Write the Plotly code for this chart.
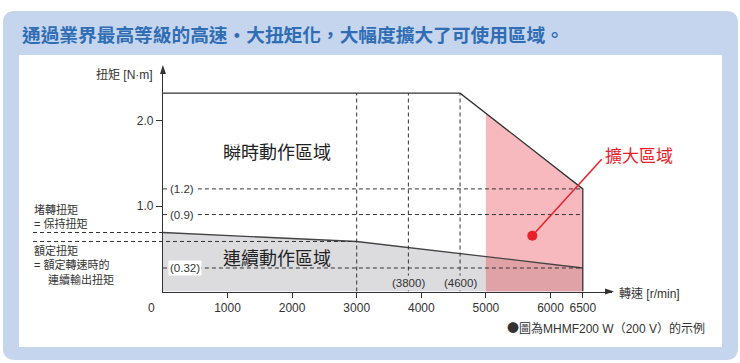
import numpy as np
import plotly.graph_objects as go

W, H = 740, 363

# ---- data ----
max_speed = [0, 4600, 6500, 6500]          # r/min
max_torque = [2.32, 2.32, 1.2, 0.0]        # N·m (instantaneous region boundary)
cont_speed = [0, 3000, 6500]
cont_torque = [0.69, 0.585, 0.275]          # continuous region boundary
ext_start = 5000                            # expanded region start speed
ext_end = 6500
ref_torques = [1.2, 0.9, 0.275]
ref_torque_labels = ["(1.2)", "(0.9)", "(0.32)"]
ref_speeds = [3000, 3800, 4600]
ref_speed_labels = ["", "(3800)", "(4600)"]
x_ticks = [1000, 2000, 3000, 4000, 5000, 6000, 6500]
x_ticklabels = ["1000", "2000", "3000", "4000", "5000", "6000", "6500"]
y_ticks = [1.0, 2.0]
y_ticklabels = ["1.0", "2.0"]
stall_torque = 0.69
rated_torque = 0.585
rated_speed = 3000
dot_point = (5718, 0.653)

# ---- helpers (pixel -> paper) ----
def px(x):
    return x / W

def py(y):
    return 1 - y / H

X0, XPX = 162.9, 0.0646      # pixel of speed 0, px per r/min
Y0, YPX = 291.5, 85.5        # pixel of torque 0, px per N·m
X_END, Y_TOP = 612, 68
xr = [0, (X_END - X0) / XPX]
yr = [0, (Y0 - Y_TOP) / YPX]

FONT = "Liberation Sans, Arial, Noto Sans CJK TC, sans-serif"
CJK = "Noto Sans CJK TC, Liberation Sans, sans-serif"
DARK = "#333333"
GRAY_FILL = "#dcdcde"
PINK = "#f7b9bd"
PINK_DARK = "#e0a2a6"
RED = "#e8202a"
BLUE_BG = "#c6d5ee"
BLUE_TXT = "#2f6db5"

fig = go.Figure()

# continuous region (gray)
cx = [0] + cont_speed + [cont_speed[-1]]
cy = [0] + cont_torque + [0]
fig.add_trace(go.Scatter(x=cx, y=cy, fill="toself", fillcolor=GRAY_FILL,
                         line=dict(width=0), mode="lines", hoverinfo="skip"))

# expanded region (pink): from ext_start to ext_end under the max curve
top_start = float(np.interp(ext_start, max_speed[:3], max_torque[:3]))
cont_start = float(np.interp(ext_start, cont_speed, cont_torque))
pxs = [ext_start, ext_start, max_speed[2], ext_end, ext_start]
pys = [0, top_start, max_torque[2], 0, 0]
fig.add_trace(go.Scatter(x=pxs, y=pys, fill="toself", fillcolor=PINK,
                         line=dict(width=0), mode="lines", hoverinfo="skip"))
# overlap of expanded and continuous (darker)
dxs = [ext_start, ext_start, ext_end, ext_end, ext_start]
dys = [0, cont_start, cont_torque[-1], 0, 0]
fig.add_trace(go.Scatter(x=dxs, y=dys, fill="toself", fillcolor=PINK_DARK,
                         line=dict(width=0), mode="lines", hoverinfo="skip"))

# boundary lines
fig.add_trace(go.Scatter(x=cont_speed, y=cont_torque, mode="lines",
                         line=dict(color="#444444", width=1.3), hoverinfo="skip"))
fig.add_trace(go.Scatter(x=max_speed, y=max_torque, mode="lines",
                         line=dict(color=DARK, width=1.3), hoverinfo="skip"))

shapes = []
# blue rounded panel
r = 12
x1p, x2p, y1p, y2p = 3, 738, 11, 360
path = (f"M {px(x1p + r)},{py(y1p)} L {px(x2p - r)},{py(y1p)} "
        f"Q {px(x2p)},{py(y1p)} {px(x2p)},{py(y1p + r)} "
        f"L {px(x2p)},{py(y2p - r)} Q {px(x2p)},{py(y2p)} {px(x2p - r)},{py(y2p)} "
        f"L {px(x1p + r)},{py(y2p)} Q {px(x1p)},{py(y2p)} {px(x1p)},{py(y2p - r)} "
        f"L {px(x1p)},{py(y1p + r)} Q {px(x1p)},{py(y1p)} {px(x1p + r)},{py(y1p)} Z")
shapes.append(dict(type="path", xref="paper", yref="paper", path=path,
                   fillcolor=BLUE_BG, line=dict(width=0), layer="below"))
shapes.append(dict(type="rect", xref="paper", yref="paper",
                   x0=px(19), x1=px(722), y0=py(347), y1=py(55),
                   fillcolor="white", line=dict(width=0), layer="below"))

dash = dict(color=DARK, width=1, dash="4px,3px")
for t in ref_torques:
    shapes.append(dict(type="line", xref="x", yref="y", x0=0, x1=ext_end,
                       y0=t, y1=t, line=dash, layer="above"))
for s in ref_speeds:
    shapes.append(dict(type="line", xref="x", yref="y", x0=s, x1=s,
                       y0=0, y1=max_torque[0], line=dash, layer="above"))
# left dashed lines (stall / rated)
shapes.append(dict(type="line", xref="paper", yref="y", x0=px(33), x1=px(X0),
                   y0=stall_torque, y1=stall_torque, line=dash))
shapes.append(dict(type="line", xref="paper", yref="y", x0=px(33),
                   x1=px(X0 + rated_speed * XPX),
                   y0=rated_torque, y1=rated_torque, line=dash))
# axis arrows
shapes.append(dict(type="path", xref="paper", yref="paper",
                   path=f"M {px(160)},{py(74)} L {px(X0)},{py(65)} L {px(166)},{py(74)} Z",
                   fillcolor=DARK, line=dict(width=0)))
shapes.append(dict(type="path", xref="paper", yref="paper",
                   path=f"M {px(605)},{py(Y0 - 3)} L {px(614)},{py(Y0)} L {px(605)},{py(Y0 + 3)} Z",
                   fillcolor=DARK, line=dict(width=0)))
# red leader line
shapes.append(dict(type="line", xref="paper", yref="paper",
                   x0=px(X0 + dot_point[0] * XPX), y0=py(Y0 - dot_point[1] * YPX),
                   x1=px(601.7), y1=py(159.3),
                   line=dict(color=RED, width=1.5)))

fig.add_trace(go.Scatter(x=[dot_point[0]], y=[dot_point[1]], mode="markers",
                         marker=dict(color=RED, size=10), hoverinfo="skip"))

ann = []
def text(x, y, t, size=11, color=DARK, anchor="center", font=FONT, yanchor="middle", **kw):
    ann.append(dict(xref="paper", yref="paper", x=px(x), y=py(y), text=t,
                    showarrow=False, xanchor=anchor, yanchor=yanchor,
                    font=dict(size=size, color=color, family=font), **kw))

# title
text(20, 33, "<b>通過業界最高等級的高速・大扭矩化，大幅度擴大了可使用區域。</b>",
     size=18.7, color=BLUE_TXT, anchor="left", font=CJK)

# torque reference labels
for t, lab in zip(ref_torques, ref_torque_labels):
    ann.append(dict(xref="x", yref="y", x=0, y=t, text=lab, showarrow=False,
                    xanchor="left", xshift=5, bgcolor="white", borderpad=1,
                    font=dict(size=11.5, color=DARK, family=FONT)))
for s, lab in zip(ref_speeds, ref_speed_labels):
    if lab:
        ann.append(dict(xref="x", yref="y", x=s, y=(Y0 - 282.7) / YPX, text=lab,
                        showarrow=False, xanchor="center", bgcolor=GRAY_FILL,
                        borderpad=1, font=dict(size=11.5, color=DARK, family=FONT)))

text(277, 150.7, "瞬時動作區域", size=18, color="#222222", font=CJK)
text(277, 256.7, "連續動作區域", size=18, color="#222222", font=CJK)
text(638.5, 154, "擴大區域", size=17, color=RED, font=CJK)

text(32, 216, "堵轉扭矩<br>= 保持扭矩", size=11, anchor="left", align="left")
text(32, 264.5, "額定扭矩<br>= 額定轉速時的<br>\u3000 連續輸出扭矩", size=11,
     anchor="left", align="left")

text(155, 75, "扭矩 [N·m]", size=12, anchor="right")
text(617, 293, "轉速 [r/min]", size=12, anchor="left")
text(151, 307.5, "0", size=12)
text(707, 327, "<span style=\"font-family:Noto Sans CJK TC\">●</span>圖為MHMF200 W（200 V）的示例",
     size=12, anchor="right")

fig.update_layout(
    width=W, height=H, margin=dict(l=0, r=0, t=0, b=0),
    paper_bgcolor="white", plot_bgcolor="rgba(0,0,0,0)",
    showlegend=False, shapes=shapes, annotations=ann,
    xaxis=dict(domain=[px(X0), px(X_END)], range=xr, showgrid=False, zeroline=False,
               showline=True, linecolor=DARK, linewidth=1.2, anchor="y",
               tickvals=x_ticks, ticktext=x_ticklabels, ticks="outside", ticklen=5,
               tickcolor=DARK, tickfont=dict(size=12, color=DARK, family=FONT),
               fixedrange=True),
    yaxis=dict(domain=[py(Y0), py(Y_TOP)], range=yr, showgrid=False, zeroline=False,
               showline=True, linecolor=DARK, linewidth=1.2, anchor="x",
               tickvals=y_ticks, ticktext=y_ticklabels, ticks="outside", ticklen=6,
               tickcolor=DARK, tickfont=dict(size=12, color=DARK, family=FONT),
               fixedrange=True),
)

fig.write_html("out.html", config={"displayModeBar": False},
               post_script="document.body.style.margin='0';document.body.style.overflow='hidden';")
